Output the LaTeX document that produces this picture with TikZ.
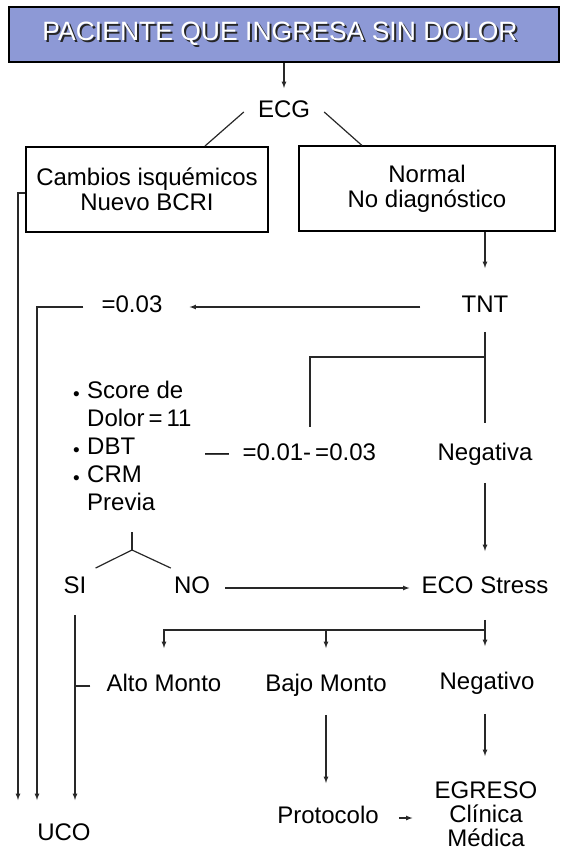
\documentclass[tikz,border=0pt]{standalone}
\usepackage{fontspec}
\setmainfont{Liberation Sans}
\definecolor{banda}{RGB}{141,153,214}
\definecolor{trazo}{RGB}{40,40,40}
\newcommand{\punto}{\makebox[14pt][l]{\raisebox{-1.5pt}{\fontsize{19}{19}\selectfont •}}}
\begin{document}
\begin{tikzpicture}[>=latex, x=1pt, y=-1pt,
  txt/.style={inner sep=0pt, text height=16.5pt, text depth=5pt, font=\fontsize{24}{28}\selectfont},
  lista/.style={inner sep=0pt, align=left, font=\fontsize{24}{28}\selectfont},
  caja/.style={draw=black, line width=2pt, fill=white, align=center, inner sep=0pt, font=\fontsize{24}{25}\selectfont},
  titular/.style={font=\fontsize{26.5}{26.5}\selectfont},
  linea/.style={draw=trazo, line width=1.2pt}]
\useasboundingbox (0,0) rectangle (566,853);
\node[draw=black, line width=2pt, fill=banda, minimum width=550pt, minimum height=55pt] (ingreso) at (284,34.5) {};
\node[titular, text=black!85] (sombra) at (282,36) {PACIENTE QUE INGRESA SIN DOLOR};
\node[titular, text=white] (titulo) at (280,34) {PACIENTE QUE INGRESA SIN DOLOR};
\node[txt] (ecg) at (284,112) {ECG};
\node[caja, minimum width=242pt, minimum height=85pt] (isq) at (147,189.5) {Cambios isquémicos\\ Nuevo BCRI};
\node[caja, minimum width=256pt, minimum height=84pt] (normal) at (427,188.5) {Normal\\ No diagnóstico};
\node[txt] (tnt) at (485,307) {TNT};
\node[txt] (lim003) at (132,307) {=0.03};
\node[lista, anchor=north west] (criterios) at (73,381) {\punto Score de\\ \hspace*{14pt}Dolor\,=\,11\\ \punto DBT\\ \punto CRM\\ \hspace*{14pt}Previa};
\node[txt, anchor=west] (lim001) at (205,455) {—\ \ =0.01-\,=0.03};
\node[txt] (neg) at (485,455) {Negativa};
\node[txt] (si) at (75,588) {SI};
\node[txt] (no) at (192,588) {NO};
\node[txt] (eco) at (485,588) {ECO Stress};
\node[txt] (alto) at (164,686) {Alto Monto};
\node[txt] (bajo) at (326,686) {Bajo Monto};
\node[txt] (negativo) at (487,684) {Negativo};
\node[txt] (uco) at (64,835) {UCO};
\node[txt] (protocolo) at (328,818) {Protocolo};
\node[lista, align=center, anchor=north, font=\fontsize{24}{24}\selectfont] (egreso) at (486,782) {EGRESO\\ Clínica\\ Médica};
\coordinate (cruce) at (485,357);
\coordinate (horquilla) at (132,550);
\coordinate (reparto) at (485,630);
\draw[linea, ->] (ingreso.south -| ecg.north) -- ([yshift=13pt]ecg.north);
\draw[linea] ([xshift=-14pt]ecg.west) -- ([xshift=58pt]isq.north);
\draw[linea] ([xshift=14pt]ecg.east) -- ([xshift=-65pt]normal.north);
\draw[linea, ->] ([yshift=-3.5pt]isq.west) -| ([xshift=-46pt,yshift=24pt]uco.north);
\draw[linea, ->] (normal.south -| tnt.north) -- ([yshift=28pt]tnt.north);
\draw[linea, ->] ([xshift=-41pt]tnt.west) -- ([xshift=27pt]lim003.east);
\draw[linea, ->] ([xshift=-18pt]lim003.west) -| ([xshift=-27pt,yshift=24pt]uco.north);
\draw[linea] ([yshift=-14pt]tnt.south) -- ([yshift=21pt]neg.north);
\draw[linea] (cruce) -| ([xshift=105pt,yshift=17pt]lim001.north west);
\draw[linea] (horquilla) -- ++(0,-18);
\draw[linea] ([xshift=9pt,yshift=9pt]si.north east) -- (horquilla) -- ([xshift=-3pt,yshift=9pt]no.north west);
\draw[linea, ->] ([xshift=15pt]no.east) -- ([xshift=-12pt]eco.west);
\draw[linea, ->] ([yshift=-17pt]neg.south) -- ([yshift=26pt]eco.north);
\draw[linea] ([yshift=-21pt]eco.south) -- (reparto);
\draw[linea, ->] (reparto) -| ([yshift=27pt]alto.north);
\draw[linea, ->] (reparto -| bajo.north) -- ([yshift=27pt]bajo.north);
\draw[linea, ->, shorten >=27pt] (reparto) -- (reparto |- negativo.north);
\draw[linea, ->] ([yshift=-16pt]si.south) -- ([xshift=11pt,yshift=24pt]uco.north);
\draw[linea] ([xshift=-16pt]alto.west) -- (alto.west -| si.south);
\draw[linea, ->, shorten <=18pt, shorten >=24pt] (bajo.south) -- (bajo.south |- protocolo.north);
\draw[linea, ->, shorten <=19pt, shorten >=26pt] (negativo.south -| reparto) -- (egreso.north -| reparto);
\draw[linea, ->, shorten <=20pt, shorten >=22pt] (protocolo.east) -- (egreso.west |- protocolo.east);
\end{tikzpicture}
\end{document}
